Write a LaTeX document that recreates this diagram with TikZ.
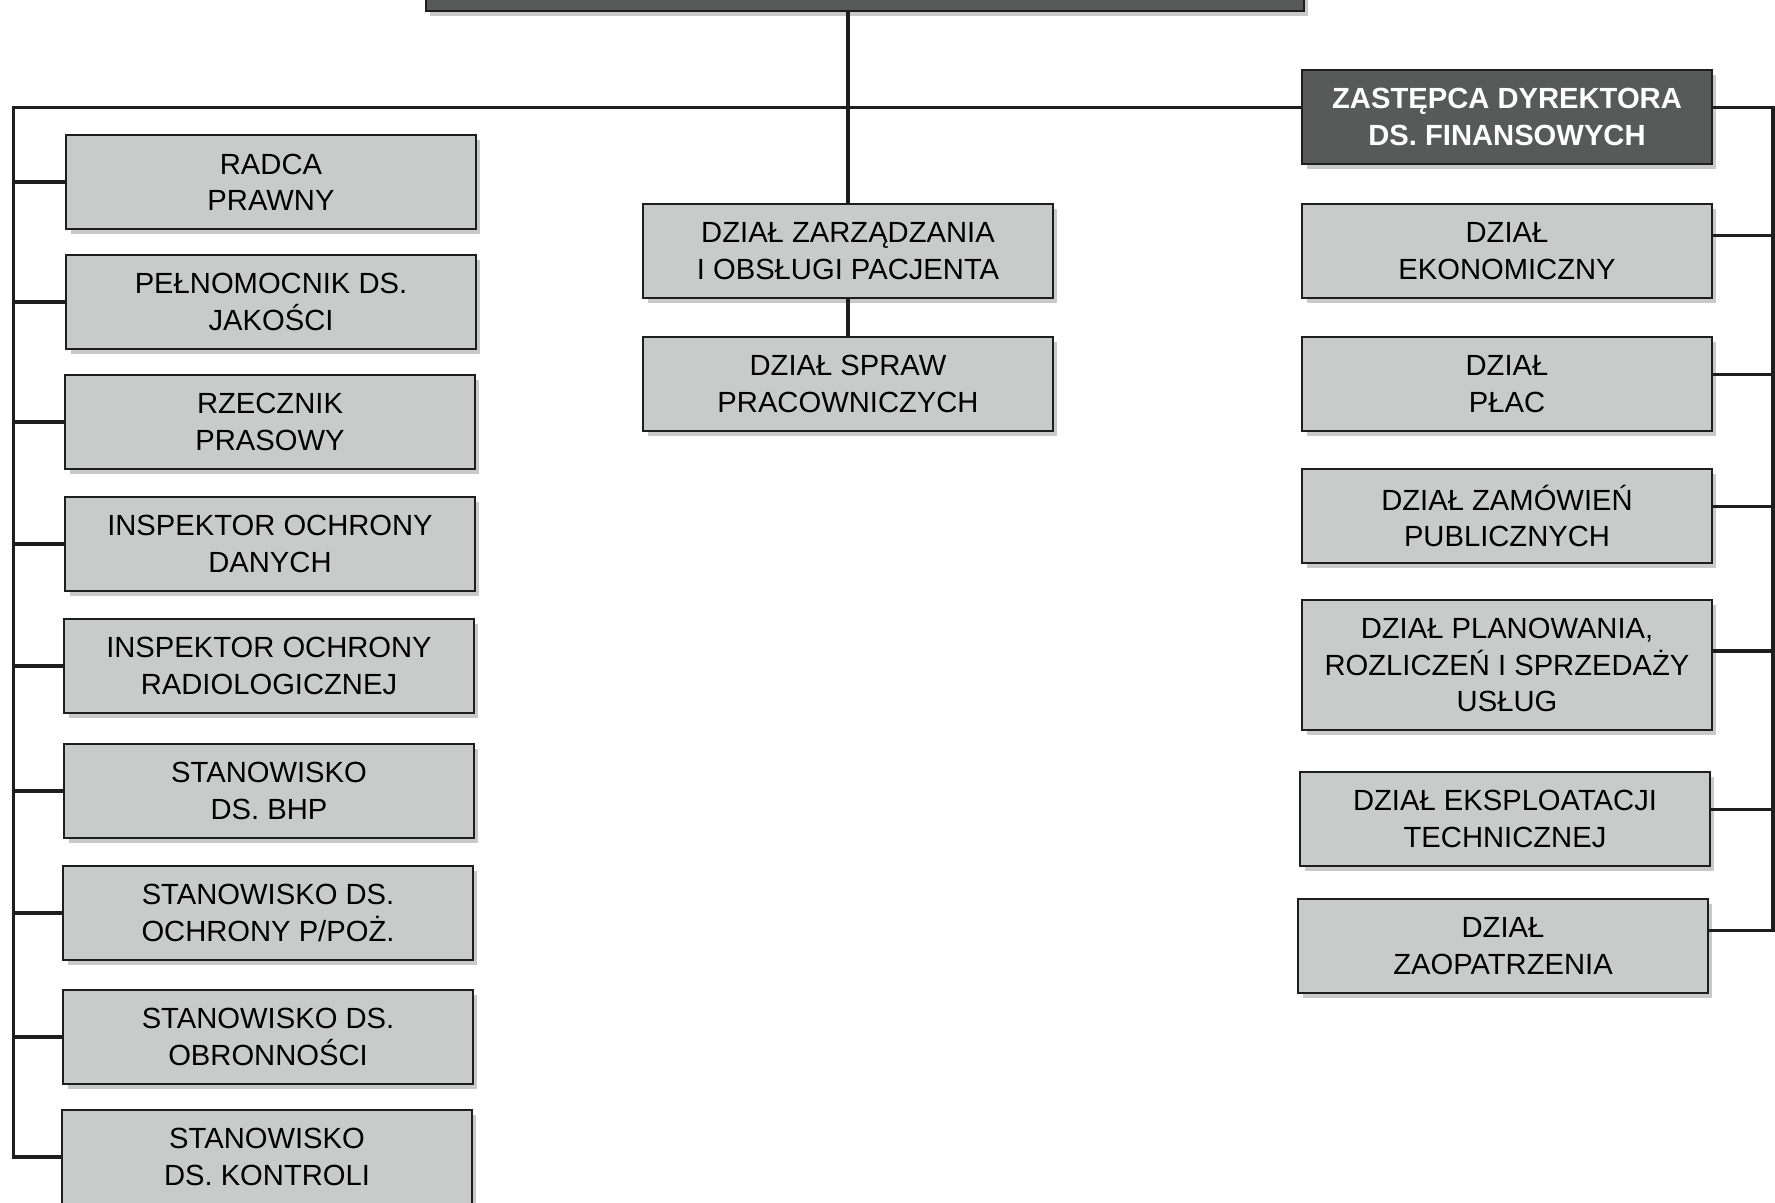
\documentclass[tikz,border=0pt]{standalone}
\usepackage{fontspec}
\setmainfont{Liberation Sans}
\usetikzlibrary{shadows}
\definecolor{boxgray}{RGB}{201,202,202}
\definecolor{headgray}{RGB}{88,89,89}
\definecolor{linegray}{RGB}{30,30,30}
\tikzstyle{box_normal} = [rectangle, draw=linegray, line width=0.6pt, fill=boxgray, minimum width=4.09cm, minimum height=0.935cm, align=center, inner sep=0pt, font=\fontsize{8.3}{10.3}\selectfont, drop shadow={shadow xshift=1.2pt, shadow yshift=-1.4pt, fill=black!35, opacity=0.6}]
\tikzstyle{box_head} = [box_normal, fill=headgray, text=white, font=\fontsize{8.3}{10.3}\selectfont\bfseries]
\tikzstyle{edge_normal} = [draw=linegray, line width=0.9pt]

\begin{document}
\begin{tikzpicture}[x=0.01cm, y=-0.01cm]
		\clip (0,0) rectangle (1775,1202);
		\fill[white] (0,0) rectangle (1775,1202);
		\coordinate (lt) at (13.6,107.5);
		\coordinate (rt) at (1773,107.5);
		
		\node (dyr) at (865,-36) [box_head, minimum width=8.78cm] {};
		
		\node (radca) at (271,182) [box_normal] {RADCA\\PRAWNY};
		\node (pelnom) at (271,302) [box_normal] {PEŁNOMOCNIK DS.\\JAKOŚCI};
		\node (rzecznik) at (270,422) [box_normal] {RZECZNIK\\PRASOWY};
		\node (iod) at (270,544) [box_normal] {INSPEKTOR OCHRONY\\DANYCH};
		\node (iorad) at (269,666) [box_normal] {INSPEKTOR OCHRONY\\RADIOLOGICZNEJ};
		\node (bhp) at (269,791) [box_normal] {STANOWISKO\\DS. BHP};
		\node (ppoz) at (268,913) [box_normal] {STANOWISKO DS.\\OCHRONY P/POŻ.};
		\node (obron) at (268,1037) [box_normal] {STANOWISKO DS.\\OBRONNOŚCI};
		\node (kontr) at (267,1157) [box_normal] {STANOWISKO\\DS. KONTROLI};
		
		\node (zarz) at (848,251) [box_normal] {DZIAŁ ZARZĄDZANIA\\I OBSŁUGI PACJENTA};
		\node (spraw) at (848,384) [box_normal] {DZIAŁ SPRAW\\PRACOWNICZYCH};
		
		\node (zast) at (1507,117) [box_head] {ZASTĘPCA DYREKTORA\\DS. FINANSOWYCH};
		\node (ekon) at (1507,251) [box_normal] {DZIAŁ\\EKONOMICZNY};
		\node (place) at (1507,384) [box_normal] {DZIAŁ\\PŁAC};
		\node (zamow) at (1507,516) [box_normal] {DZIAŁ ZAMÓWIEŃ\\PUBLICZNYCH};
		\node (plan) at (1507,665) [box_normal, minimum height=1.3cm] {DZIAŁ PLANOWANIA,\\ROZLICZEŃ I SPRZEDAŻY\\USŁUG};
		\node (ekspl) at (1505,819) [box_normal] {DZIAŁ EKSPLOATACJI\\TECHNICZNEJ};
		\node (zaop) at (1503,946) [box_normal] {DZIAŁ\\ZAOPATRZENIA};
		
		\draw[edge_normal] (zarz.north |- dyr.south) -- (zarz.north) (zarz) -- (spraw);
		\draw[edge_normal] (kontr.west) -- (kontr.west -| lt) -- (lt) -- (zast.west |- lt)
			(radca.west) -- (radca.west -| lt) (pelnom.west) -- (pelnom.west -| lt)
			(rzecznik.west) -- (rzecznik.west -| lt) (iod.west) -- (iod.west -| lt)
			(iorad.west) -- (iorad.west -| lt) (bhp.west) -- (bhp.west -| lt)
			(ppoz.west) -- (ppoz.west -| lt) (obron.west) -- (obron.west -| lt);
		\draw[edge_normal] (zast.east |- rt) -- (rt) -- ([yshift=4.5pt]zaop.east -| rt) -- ([yshift=4.5pt]zaop.east)
			([yshift=4.5pt]ekon.east) -- ([yshift=4.5pt]ekon.east -| rt)
			([yshift=2.8pt]place.east) -- ([yshift=2.8pt]place.east -| rt)
			([yshift=2.8pt]zamow.east) -- ([yshift=2.8pt]zamow.east -| rt)
			([yshift=4pt]plan.east) -- ([yshift=4pt]plan.east -| rt)
			([yshift=2.8pt]ekspl.east) -- ([yshift=2.8pt]ekspl.east -| rt);
		\end{tikzpicture}
\end{document}
